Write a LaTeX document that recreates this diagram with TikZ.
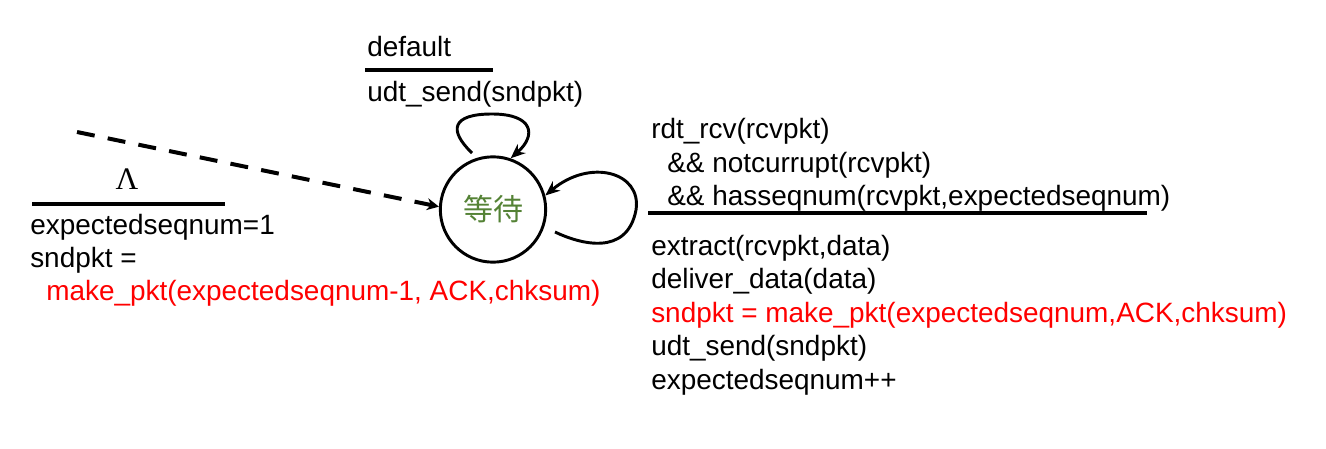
\documentclass[tikz,border=0pt]{standalone}
\usepackage{fontspec}
\setmainfont{Liberation Sans}
\newfontfamily\cjk{Noto Sans CJK SC}
\newfontfamily\seriffont{Liberation Serif}
\usetikzlibrary{arrows.meta}
\definecolor{waitgreen}{RGB}{84,130,53}
\definecolor{codered}{RGB}{255,0,0}
\begin{document}
\begin{tikzpicture}[x=0.75pt,y=-0.75pt,
  lbl/.style={anchor=base west, inner sep=0pt, font=\fontsize{20.95}{25}\selectfont},
  redtxt/.style={text=codered},
  bar/.style={line width=3pt},
  loopedge/.style={line width=2.2pt, -{Stealth[length=11pt,width=9pt]}},
  dashedge/.style={line width=3pt, dash pattern=on 13.5pt off 10pt, -{Stealth[length=9pt,width=9pt]}},
  state/.style={circle, draw, line width=2.2pt, minimum size=79pt, inner sep=0pt,
    font=\cjk\fontsize{22.5}{24}\selectfont, text=waitgreen}
]
\useasboundingbox (0,0) rectangle (1326,449);

% state
\node[state] (wait) at (493,209.5) {等待};

% top self loop
\coordinate (tstart) at (472,153);
\draw[loopedge] (tstart) .. controls (448,130) and (452,114) .. (492,114)
  .. controls (533,114) and (537,135) .. (wait.71);

% right self loop
\coordinate (rstart) at (555,232);
\draw[loopedge] (rstart) .. controls (580,244) and (627,257) .. (636,210)
  .. controls (642,172) and (590,158) .. (wait.15);

% initial dashed arrow
\coordinate (init) at (77,132);
\draw[dashedge] (init) -- (wait.177);

% left label
\node[anchor=base, inner sep=0pt, font=\seriffont\fontsize{23.5}{25}\selectfont] (lam) at (127,189) {Λ};
\coordinate (lbA) at (32,204);
\coordinate (lbB) at (225,204);
\draw[bar] (lbA) -- (lbB);
\node[lbl] (l1) at (30,234) {expectedseqnum=1};
\node[lbl] (l2) at (30,267) {sndpkt =};
\node[lbl, redtxt] (l3) at (46,300) {make\_pkt(expectedseqnum-1, ACK,chksum)};

% top label
\node[lbl] (t1) at (367,57) {default};
\coordinate (tbA) at (365,70);
\coordinate (tbB) at (493,70);
\draw[bar] (tbA) -- (tbB);
\node[lbl] (t2) at (367,102) {udt\_send(sndpkt)};

% right label
\node[lbl] (r1) at (651,138) {rdt\_rcv(rcvpkt)};
\node[lbl] (r2) at (667,172) {\&\& notcurrupt(rcvpkt)};
\node[lbl] (r3) at (667,205) {\&\& hasseqnum(rcvpkt,expectedseqnum)};
\coordinate (rbA) at (648,213);
\coordinate (rbB) at (1147,213);
\draw[bar] (rbA) -- (rbB);
\node[lbl] (r4) at (651,255) {extract(rcvpkt,data)};
\node[lbl] (r5) at (651,288.5) {deliver\_data(data)};
\node[lbl, redtxt] (r6) at (651,322) {sndpkt = make\_pkt(expectedseqnum,ACK,chksum)};
\node[lbl] (r7) at (651,355.5) {udt\_send(sndpkt)};
\node[lbl] (r8) at (651,389) {expectedseqnum++};
\end{tikzpicture}
\end{document}
